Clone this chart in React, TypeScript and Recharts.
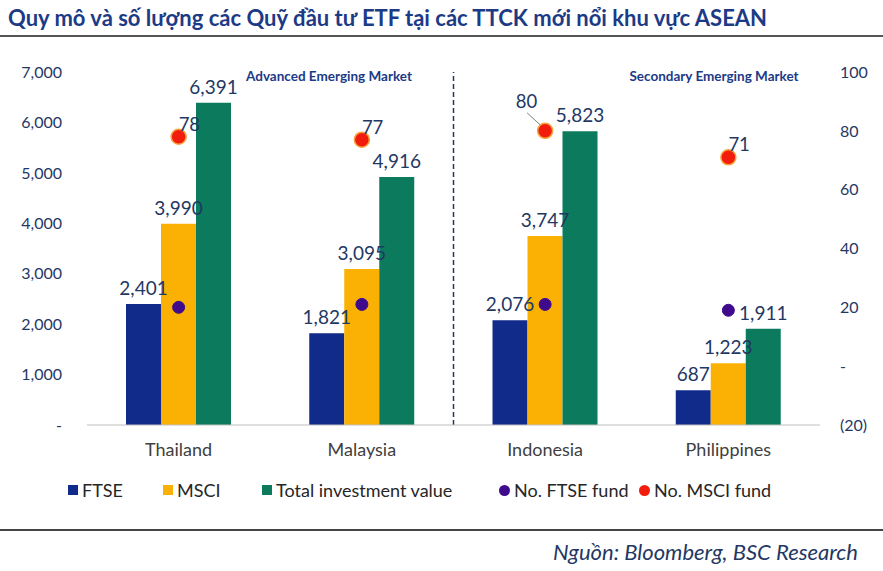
import { ComposedChart, Bar, Line, XAxis, YAxis, LabelList, ReferenceLine, Legend } from 'recharts';

const markets = ['Thailand', 'Malaysia', 'Indonesia', 'Philippines'];
const ftseValue = [2401, 1821, 2076, 687];
const msciValue = [3990, 3095, 3747, 1223];
const totalValue = [6391, 4916, 5823, 1911];
const ftseFunds = [20, 21, 21, 19];
const msciFunds = [78, 77, 80, 71];
const leftTicks = [0, 1000, 2000, 3000, 4000, 5000, 6000, 7000];
const rightTicks = [-20, 0, 20, 40, 60, 80, 100];

const data = markets.map((market, i) => ({
  market,
  ftse: ftseValue[i],
  msci: msciValue[i],
  total: totalValue[i],
  ftseFunds: ftseFunds[i],
  msciFunds: msciFunds[i],
}));

const FONT = 'Lato, "Open Sans", sans-serif';
const NAVY = '#1f3864';

const fmtLeft = (v: number) => (v === 0 ? '-' : v.toLocaleString('en-US'));
const fmtRight = (v: number) => (v === 0 ? '-' : v < 0 ? `(${Math.abs(v)})` : `${v}`);

const MsciFundLabel = (props: any) => {
  const { x, y, value, index } = props;
  // Indonesia's label sits up-left with a leader line, like the source chart
  if (index === 2) {
    return (
      <g>
        <line x1={x - 18} y1={y - 18} x2={x - 5} y2={y - 6} stroke="#7f7f7f" strokeWidth={1} />
        <text x={x - 8} y={y - 23} textAnchor="end" fill={NAVY} fontSize={18.5} fontFamily={FONT}>
          {value}
        </text>
      </g>
    );
  }
  return (
    <text x={x} y={y - 6} textAnchor="start" fill={NAVY} fontSize={18.5} fontFamily={FONT}>
      {value}
    </text>
  );
};

const legendItems = [
  { label: 'FTSE', color: '#112b8a', shape: 'square', left: 68 },
  { label: 'MSCI', color: '#fbb104', shape: 'square', left: 163 },
  { label: 'Total investment value', color: '#0c7b5d', shape: 'square', left: 262 },
  { label: 'No. FTSE fund', color: '#3f0b8c', shape: 'circle', left: 499 },
  { label: 'No. MSCI fund', color: '#f21c0c', shape: 'circle', left: 639 },
];

const renderLegend = () => (
  <div style={{ position: 'relative', width: 883, height: 24 }}>
    {legendItems.map((item) => (
      <div
        key={item.label}
        style={{
          position: 'absolute',
          left: item.left,
          top: 0,
          display: 'flex',
          alignItems: 'center',
          fontFamily: FONT,
          fontSize: 18,
          color: '#262626',
          whiteSpace: 'nowrap',
        }}
      >
        <span
          style={{
            display: 'inline-block',
            width: item.shape === 'square' ? 10 : 11,
            height: item.shape === 'square' ? 10 : 11,
            borderRadius: item.shape === 'circle' ? '50%' : 0,
            background: item.color,
            marginRight: 4,
          }}
        />
        {item.label}
      </div>
    ))}
  </div>
);

const annotationStyle = {
  position: 'absolute' as const,
  top: 68,
  width: 190,
  textAlign: 'center' as const,
  fontFamily: FONT,
  fontWeight: 700,
  fontSize: 13.5,
  color: '#1c3a86',
  whiteSpace: 'nowrap' as const,
};

export default function App() {
  return (
    <div style={{ position: 'absolute', left: 0, top: 0, width: 883, height: 571, background: '#fff', overflow: 'hidden' }}>
      <div
        style={{
          position: 'absolute',
          left: 8,
          top: 4,
          fontFamily: FONT,
          fontWeight: 700,
          fontSize: 22,
          color: '#1c3a86',
          whiteSpace: 'nowrap',
        }}
      >
        Quy mô và số lượng các Quỹ đầu tư ETF tại các TTCK mới nổi khu vực ASEAN
      </div>
      <div style={{ position: 'absolute', left: 0, top: 35, width: 883, height: 2, background: '#555' }} />

      <ComposedChart
        width={883}
        height={571}
        data={data}
        margin={{ top: 72, right: 0, left: 0, bottom: 106 }}
        barGap={0}
        barSize={35}
      >
        <XAxis
          dataKey="market"
          tickLine={false}
          axisLine={{ stroke: '#bfbfbf' }}
          tick={{ fill: '#404040', fontSize: 18, fontFamily: FONT }}
          tickMargin={12}
          height={40}
        />
        <YAxis
          yAxisId="left"
          width={87}
          domain={[0, 7000]}
          ticks={leftTicks}
          tickFormatter={fmtLeft}
          axisLine={false}
          tickLine={false}
          tickSize={0}
          tickMargin={25}
          tick={{ fill: NAVY, fontSize: 16, fontFamily: FONT }}
        />
        <YAxis
          yAxisId="right"
          orientation="right"
          width={63}
          domain={[-20, 100]}
          ticks={rightTicks}
          tickFormatter={fmtRight}
          axisLine={false}
          tickLine={false}
          tickSize={0}
          tickMargin={20}
          tick={{ fill: NAVY, fontSize: 16, fontFamily: FONT, textAnchor: 'start' }}
        />
        <ReferenceLine
          yAxisId="left"
          x="Indonesia"
          position="start"
          stroke={NAVY}
          strokeWidth={1.5}
          strokeDasharray="5 3"
        />
        <Bar yAxisId="left" dataKey="ftse" name="FTSE" fill="#112b8a" isAnimationActive={false}>
          <LabelList dataKey="ftse" position="top" offset={9} formatter={fmtLeft} fill={NAVY} fontSize={19} fontFamily={FONT} />
        </Bar>
        <Bar yAxisId="left" dataKey="msci" name="MSCI" fill="#fbb104" isAnimationActive={false}>
          <LabelList dataKey="msci" position="top" offset={9} formatter={fmtLeft} fill={NAVY} fontSize={19} fontFamily={FONT} />
        </Bar>
        <Bar yAxisId="left" dataKey="total" name="Total investment value" fill="#0c7b5d" isAnimationActive={false}>
          <LabelList dataKey="total" position="top" offset={9} formatter={fmtLeft} fill={NAVY} fontSize={19} fontFamily={FONT} />
        </Bar>
        <Line
          yAxisId="right"
          dataKey="ftseFunds"
          name="No. FTSE fund"
          stroke="none"
          dot={{ r: 6, fill: '#3f0b8c', stroke: '#3f0b8c', strokeWidth: 1 }}
          activeDot={false}
          isAnimationActive={false}
        />
        <Line
          yAxisId="right"
          dataKey="msciFunds"
          name="No. MSCI fund"
          stroke="none"
          dot={{ r: 7.5, fill: '#f21c0c', stroke: '#f7a13a', strokeWidth: 1.5 }}
          activeDot={false}
          isAnimationActive={false}
        >
          <LabelList dataKey="msciFunds" content={MsciFundLabel} />
        </Line>
        <Legend
          layout="horizontal"
          verticalAlign="middle"
          align="center"
          wrapperStyle={{ top: 479, left: 0, width: 883 }}
          content={renderLegend}
        />
      </ComposedChart>

      <div style={{ ...annotationStyle, left: 234 }}>Advanced Emerging Market</div>
      <div style={{ ...annotationStyle, left: 619 }}>Secondary Emerging Market</div>

      <div style={{ position: 'absolute', left: 0, top: 529, width: 883, height: 2, background: '#444' }} />
      <div
        style={{
          position: 'absolute',
          right: 25,
          top: 538,
          fontFamily: FONT,
          fontStyle: 'italic',
          fontSize: 22,
          color: NAVY,
          whiteSpace: 'nowrap',
        }}
      >
        Nguồn: Bloomberg, BSC Research
      </div>
    </div>
  );
}
